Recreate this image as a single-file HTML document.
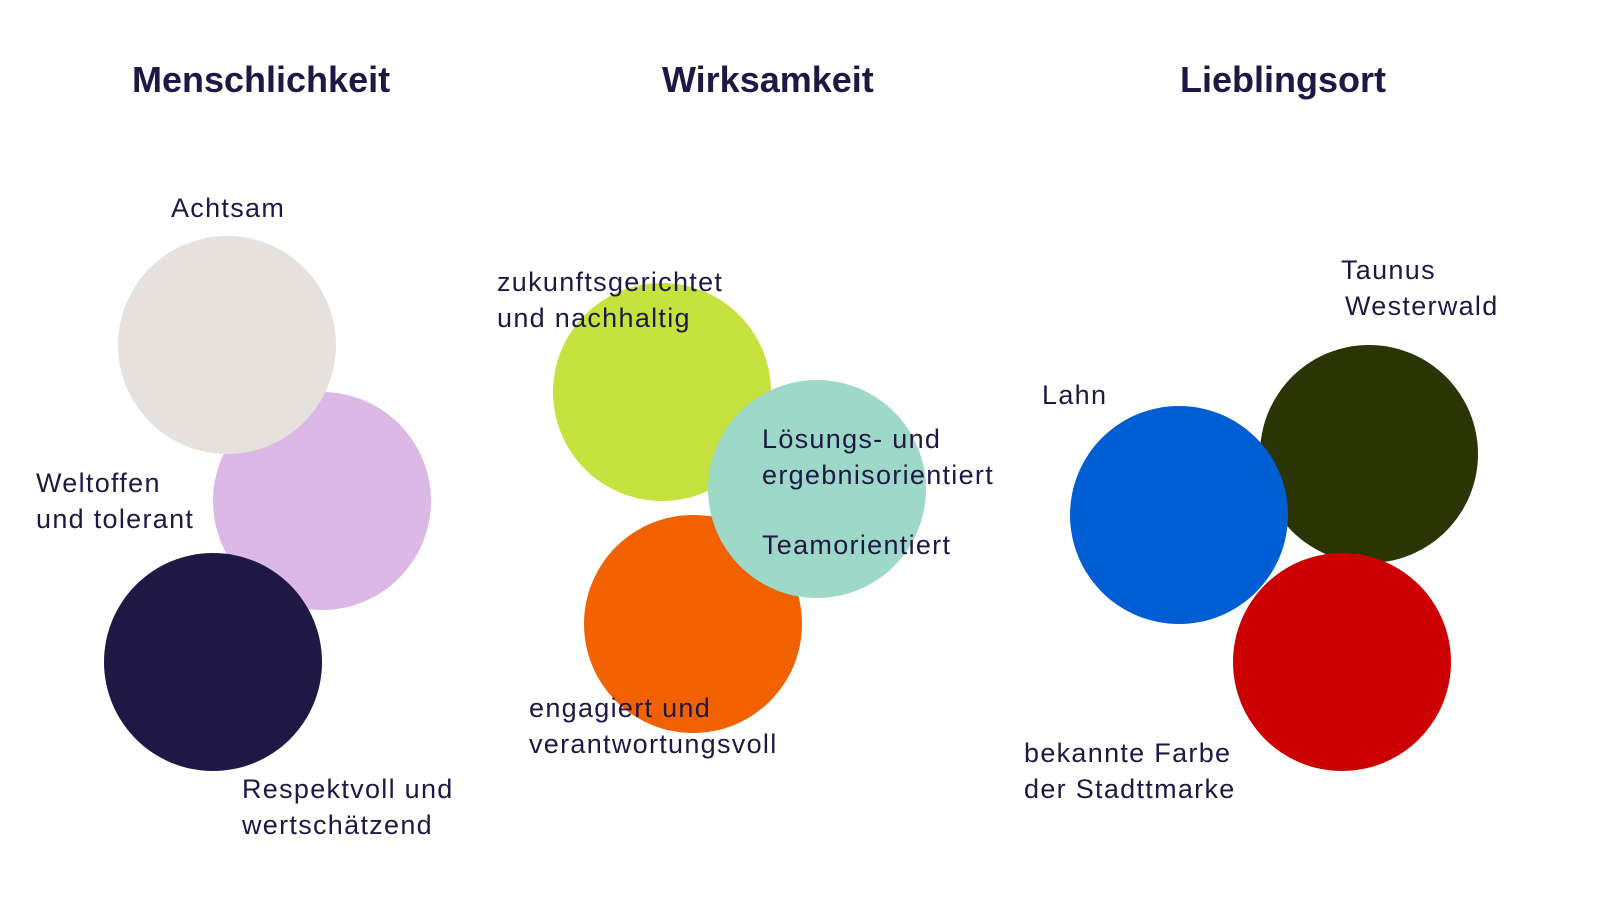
<!DOCTYPE html>
<html><head><meta charset="utf-8"><style>
body{margin:0;width:1600px;height:900px;background:#fff;position:relative;overflow:hidden;font-family:"Liberation Sans",sans-serif;color:#1f1844}
.c{position:absolute;width:218px;height:218px;border-radius:50%}
.t{position:absolute;font-size:27px;letter-spacing:1.3px;line-height:36px;white-space:nowrap}
.h{position:absolute;font-size:36px;font-weight:bold;line-height:40px;white-space:nowrap}
</style></head><body>
<div class="h" style="left:132px;top:60px">Menschlichkeit</div>
<div class="h" style="left:662px;top:60px">Wirksamkeit</div>
<div class="h" style="left:1180px;top:60px">Lieblingsort</div>

<div class="c" style="left:213px;top:392px;background:#dbb8e6"></div>
<div class="c" style="left:118px;top:236px;background:#e7e1de"></div>
<div class="c" style="left:104px;top:553px;background:#1f1844"></div>

<div class="c" style="left:553px;top:283px;background:#c5e23e"></div>
<div class="c" style="left:584px;top:515px;background:#f26100"></div>
<div class="c" style="left:708px;top:380px;background:#9dd8c9"></div>

<div class="c" style="left:1260px;top:345px;background:#2a3404"></div>
<div class="c" style="left:1070px;top:406px;background:#005ed4"></div>
<div class="c" style="left:1233px;top:553px;background:#cc0000"></div>

<div class="t" style="left:171px;top:190px">Achtsam</div>
<div class="t" style="left:36px;top:465px">Weltoffen<br>und tolerant</div>
<div class="t" style="left:242px;top:771px">Respektvoll und<br>wertschätzend</div>

<div class="t" style="left:497px;top:264px">zukunftsgerichtet<br>und nachhaltig</div>
<div class="t" style="left:762px;top:421px">Lösungs- und<br>ergebnisorientiert</div>
<div class="t" style="left:762px;top:527px">Teamorientiert</div>
<div class="t" style="left:529px;top:690px">engagiert und<br>verantwortungsvoll</div>

<div class="t" style="left:1341px;top:252px">Taunus</div>
<div class="t" style="left:1345px;top:288px">Westerwald</div>
<div class="t" style="left:1042px;top:377px">Lahn</div>
<div class="t" style="left:1024px;top:735px">bekannte Farbe<br>der Stadttmarke</div>
</body></html>
